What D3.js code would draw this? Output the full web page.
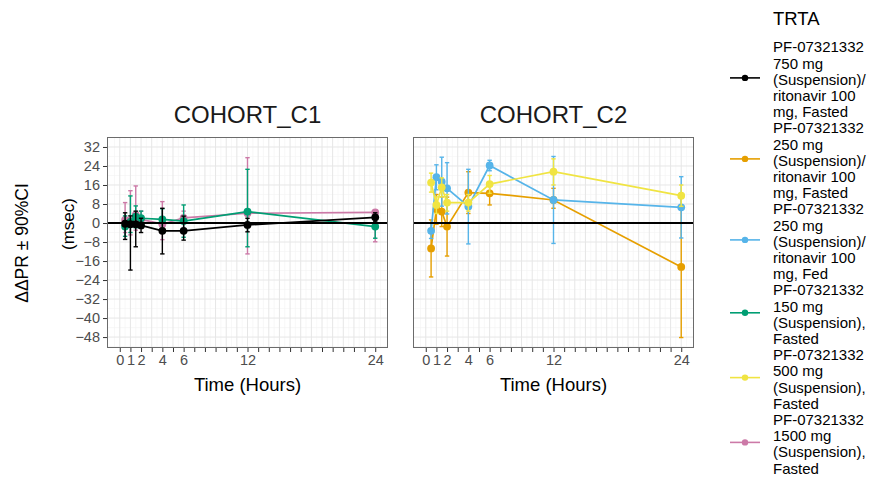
<!DOCTYPE html>
<html>
<head>
<meta charset="utf-8">
<script src="https://cdn.jsdelivr.net/npm/d3@7"></script>
<style>
  html, body { margin: 0; padding: 0; background: #fff; }
  svg { display: block; font-family: "Liberation Sans", Arial, sans-serif; }
</style>
</head>
<body>
<svg id="chart" width="871" height="478"></svg>
<script>
// ---------------- data ----------------
const times = [0.5, 1, 1.5, 2, 4, 6, 12, 24];
const xTickValues = d3.range(0, 25);
const xTickLabels = ["0", "1", "2", "4", "6", "12", "24"];
const yTickValues = [-48, -40, -32, -24, -16, -8, 0, 8, 16, 24, 32];
const panels = ["COHORT_C1", "COHORT_C2"];

const seriesNames = [
  ["PF-07321332", "750 mg", "(Suspension)/", "ritonavir 100", "mg, Fasted"],
  ["PF-07321332", "250 mg", "(Suspension)/", "ritonavir 100", "mg, Fasted"],
  ["PF-07321332", "250 mg", "(Suspension)/", "ritonavir 100", "mg, Fed"],
  ["PF-07321332", "150 mg", "(Suspension),", "Fasted"],
  ["PF-07321332", "500 mg", "(Suspension),", "Fasted"],
  ["PF-07321332", "1500 mg", "(Suspension),", "Fasted"]
];
const seriesColors = ["#000000", "#E69F00", "#56B4E9", "#009E73", "#F0E442", "#CC79A7"];
const seriesPanel = [0, 1, 1, 0, 1, 0];

// mean, lower and upper 90% CI per series (same order as seriesNames)
const meanBlack  = [-0.3, -0.5, -0.5, -1.0, -3.3, -3.3, -0.8, 2.4];
const loBlack    = [-6.9, -19.8, -10.0, -4.0, -13.0, -7.2, -3.7, 0.5];
const hiBlack    = [4.3, 3.0, 5.0, 2.0, 6.2, 2.9, 2.0, 4.3];

const meanOrange = [-10.7, 5.8, 4.8, -1.5, 12.8, 12.5, 9.7, -18.5];
const loOrange   = [-22.7, -0.5, -1.5, -13.9, 4.0, 7.6, 6.2, -48.2];
const hiOrange   = [1.3, 12.0, 11.0, 10.9, 21.6, 17.4, 14.6, 11.0];

const meanBlue   = [-3.3, 19.3, 17.4, 14.6, 7.0, 24.2, 9.7, 6.6];
const loBlue     = [-6.5, 14.0, 7.1, 3.8, -8.8, 22.0, -8.6, -6.3];
const hiBlue     = [0.0, 24.5, 27.7, 25.4, 22.6, 26.4, 28.0, 19.5];

const meanGreen  = [-1.5, 0.5, 2.7, 2.0, 1.5, 0.8, 4.8, -1.5];
const loGreen    = [-5.6, -4.0, -2.0, -1.5, -3.0, -6.0, -10.0, -6.4];
const hiGreen    = [3.0, 11.4, 7.2, 5.0, 6.0, 7.6, 22.6, 2.0];

const meanYellow = [17.0, 7.6, 15.0, 8.6, 8.6, 16.4, 21.6, 11.5];
const loYellow   = [13.0, 4.0, 11.0, 5.0, 5.0, 12.5, 16.0, 7.0];
const hiYellow   = [21.0, 11.0, 19.0, 12.0, 12.0, 20.0, 27.0, 16.0];

const meanPink   = [1.3, 1.0, 3.4, 1.5, -0.5, 2.2, 4.1, 4.5];
const loPink     = [-4.0, -5.0, -3.0, -2.0, -7.0, -3.0, -13.0, -7.9];
const hiPink     = [8.6, 13.6, 15.6, 5.0, 9.0, 5.0, 27.5, 5.5];

const means = [meanBlack, meanOrange, meanBlue, meanGreen, meanYellow, meanPink];
const lows  = [loBlack, loOrange, loBlue, loGreen, loYellow, loPink];
const highs = [hiBlack, hiOrange, hiBlue, hiGreen, hiYellow, hiPink];

// drawing order per panel
const drawOrder = [5, 3, 0, 1, 2, 4];

// ---------------- layout ----------------
const svg = d3.select("#chart");
const font = '"Liberation Sans", Arial, sans-serif';
const panelTop = 137, panelBottom = 348;
const panelX = [[107, 388], [413, 694]];

const y = d3.scaleLinear().domain([-52.6, 36.2]).range([panelBottom, panelTop]);
const xs = panelX.map(r => d3.scaleLinear().domain([-1.2, 25.2]).range(r));

panels.forEach((p, pi) => {
  const x = xs[pi];
  const g = svg.append("g");
  const [x0, x1] = panelX[pi];

  // background
  g.append("rect").attr("x", x0).attr("y", panelTop)
    .attr("width", x1 - x0).attr("height", panelBottom - panelTop).attr("fill", "#fff");

  // minor grid
  const minorX = d3.range(0, 24, 1).map(v => v + 0.5).concat([-0.5, 24.5]).filter(v => v > -1.2 && v < 25.2);
  const minorY = yTickValues.map(v => v + 4).concat([-52]).filter(v => v > -52.6 && v < 36.2);
  g.selectAll(".mgx").data(minorX).join("line")
    .attr("x1", d => x(d)).attr("x2", d => x(d)).attr("y1", panelTop).attr("y2", panelBottom)
    .attr("stroke", "#F4F4F4").attr("stroke-width", 0.6);
  g.selectAll(".mgy").data(minorY).join("line")
    .attr("x1", x0).attr("x2", x1).attr("y1", d => y(d)).attr("y2", d => y(d))
    .attr("stroke", "#F4F4F4").attr("stroke-width", 0.6);
  // major grid
  g.selectAll(".gx").data(xTickValues).join("line")
    .attr("x1", d => x(d)).attr("x2", d => x(d)).attr("y1", panelTop).attr("y2", panelBottom)
    .attr("stroke", "#E6E6E6").attr("stroke-width", 1);
  g.selectAll(".gy").data(yTickValues).join("line")
    .attr("x1", x0).attr("x2", x1).attr("y1", d => y(d)).attr("y2", d => y(d))
    .attr("stroke", "#E6E6E6").attr("stroke-width", 1);

  // series
  drawOrder.filter(si => seriesPanel[si] === pi).forEach(si => {
    const col = seriesColors[si];
    const pts = times.map((t, i) => ({ t, m: means[si][i], lo: lows[si][i], hi: highs[si][i] }));
    const sg = g.append("g");
    // error bars
    sg.selectAll(".eb").data(pts).join("line")
      .attr("x1", d => x(d.t)).attr("x2", d => x(d.t))
      .attr("y1", d => y(d.lo)).attr("y2", d => y(d.hi))
      .attr("stroke", col).attr("stroke-width", 1.4);
    sg.selectAll(".cl").data(pts).join("line")
      .attr("x1", d => x(d.t) - 2.2).attr("x2", d => x(d.t) + 2.2)
      .attr("y1", d => y(d.lo)).attr("y2", d => y(d.lo))
      .attr("stroke", col).attr("stroke-width", 1.4);
    sg.selectAll(".ch").data(pts).join("line")
      .attr("x1", d => x(d.t) - 2.2).attr("x2", d => x(d.t) + 2.2)
      .attr("y1", d => y(d.hi)).attr("y2", d => y(d.hi))
      .attr("stroke", col).attr("stroke-width", 1.4);
    // line
    sg.append("path").datum(pts)
      .attr("d", d3.line().x(d => x(d.t)).y(d => y(d.m)))
      .attr("fill", "none").attr("stroke", col).attr("stroke-width", 1.7);
    // points
    sg.selectAll(".pt").data(pts).join("circle")
      .attr("cx", d => x(d.t)).attr("cy", d => y(d.m)).attr("r", 3.9)
      .attr("fill", col);
  });

  // zero reference line
  g.append("line").attr("x1", x0).attr("x2", x1).attr("y1", y(0)).attr("y2", y(0))
    .attr("stroke", "#000").attr("stroke-width", 1.8);

  // border
  g.append("rect").attr("x", x0 + 0.5).attr("y", panelTop + 0.5)
    .attr("width", x1 - x0 - 1).attr("height", panelBottom - panelTop - 1)
    .attr("fill", "none").attr("stroke", "#6b6b6b").attr("stroke-width", 1);

  // strip title
  svg.append("text").attr("x", (x0 + x1) / 2).attr("y", 123)
    .attr("text-anchor", "middle").attr("font-size", 24).attr("fill", "#1a1a1a")
    .attr("font-family", font).text(p);

  // x axis
  const xAxis = d3.axisBottom(x).tickValues(xTickValues).tickSize(4).tickPadding(3)
    .tickFormat(d => xTickLabels.includes(String(d)) ? String(d) : "");
  const xa = svg.append("g").attr("transform", `translate(0,${panelBottom})`).call(xAxis);
  xa.select(".domain").remove();
  xa.selectAll(".tick line").attr("stroke", "#333").attr("stroke-width", 1);
  xa.selectAll(".tick text").attr("font-size", 14.5).attr("fill", "#4d4d4d").attr("font-family", font);

  // x axis title
  svg.append("text").attr("x", (x0 + x1) / 2).attr("y", 391)
    .attr("text-anchor", "middle").attr("font-size", 18.5).attr("fill", "#000")
    .attr("font-family", font).text("Time (Hours)");

  // y axis (first panel only)
  if (pi === 0) {
    const yAxis = d3.axisLeft(y).tickValues(yTickValues).tickSize(4).tickPadding(3);
    const ya = svg.append("g").attr("transform", `translate(${x0},0)`).call(yAxis);
    ya.select(".domain").remove();
    ya.selectAll(".tick line").attr("stroke", "#333").attr("stroke-width", 1);
    ya.selectAll(".tick text").attr("font-size", 14.5).attr("fill", "#4d4d4d").attr("font-family", font);
  }
});

// y axis title (two lines)
svg.append("text").attr("transform", "translate(28,243) rotate(-90)")
  .attr("text-anchor", "middle").attr("font-size", 17.5).attr("fill", "#000")
  .attr("font-family", font).text("ΔΔPR ± 90%CI");
svg.append("text").attr("transform", "translate(74,224) rotate(-90)")
  .attr("text-anchor", "middle").attr("font-size", 17).attr("fill", "#000")
  .attr("font-family", font).text("(msec)");

// ---------------- legend ----------------
const lg = svg.append("g");
lg.append("text").attr("x", 773).attr("y", 25).attr("font-size", 18.5)
  .attr("fill", "#000").attr("font-family", font).text("TRTA");

const lineH = 16.2, firstY = 47;
let k = 0;
seriesNames.forEach((lines, si) => {
  const startK = k;
  lines.forEach((ln, li) => {
    lg.append("text").attr("x", 773).attr("y", firstY + (startK + li) * lineH + 5.3)
      .attr("font-size", 15).attr("fill", "#000").attr("font-family", font).text(ln);
  });
  const cy = firstY + (startK + (lines.length - 1) / 2) * lineH - 1.5;
  lg.append("line").attr("x1", 730).attr("x2", 760).attr("y1", cy).attr("y2", cy)
    .attr("stroke", seriesColors[si]).attr("stroke-width", 1.6);
  lg.append("circle").attr("cx", 745).attr("cy", cy).attr("r", 3.2).attr("fill", seriesColors[si]);
  k += lines.length;
});
</script>
</body>
</html>
